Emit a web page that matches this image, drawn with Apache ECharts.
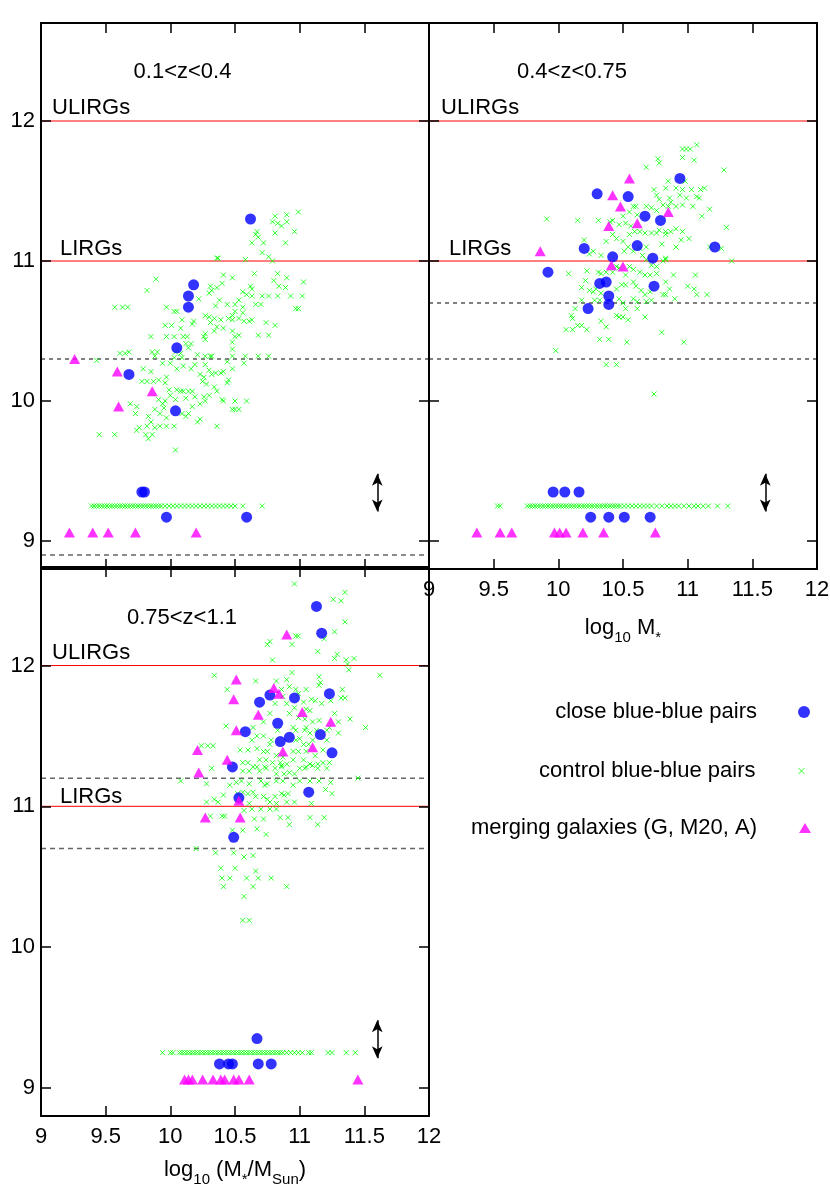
<!DOCTYPE html>
<html><head><meta charset="utf-8">
<script src="https://cdn.jsdelivr.net/npm/echarts@6/dist/echarts.min.js"></script>
<style>html,body{margin:0;padding:0;background:#fff}#c{width:830px;height:1186px}</style>
</head><body><div id="c"></div>
<script>
// ---------------- DATA ----------------
const panelTitles = ['0.1<z<0.4', '0.4<z<0.75', '0.75<z<1.1'];
const seriesNames = ['close blue-blue pairs', 'control blue-blue pairs', 'merging galaxies (G, M20, A)'];
const xRange = [9, 12];
const xInterval = 0.5;
const yRange = [8.8, 12.7];
const yTicks = [9, 10, 11, 12];
const lirgLevels = [12, 11];           // ULIRGs, LIRGs
const dashedBlack = [[10.3], [10.7, 10.3], []];
const dashedGray = [[8.9], [], [11.2, 10.7]];
const arrowX = 11.6;
const arrowYs = [9.21, 9.48];
const rowY = { control: 9.25 };

// panel A: 0.1<z<0.4
const closeA = [[10.62,11.30],[10.18,10.83],[10.14,10.75],[10.14,10.67],[10.05,10.38],[9.68,10.19],[10.04,9.93],
  [9.78,9.35],[9.80,9.35],[9.97,9.17],[10.59,9.17]];
const mergingA = [[9.26,10.30],[9.59,10.21],[9.86,10.07],[9.60,9.96],
  [9.22,9.06],[9.40,9.06],[9.52,9.06],[9.73,9.06],[10.20,9.06]];
const controlA = [[10.81,11.32],[10.79,11.28],[10.83,11.27],[10.90,11.33],[10.90,11.28],[10.86,11.25],[10.99,11.35],[10.96,11.21],[10.89,11.13],[10.67,11.21],[10.66,11.19],[10.68,11.17],[10.63,11.13],[10.72,11.13],[10.81,11.20],[10.71,11.06],[10.76,11.03],[10.79,11.00],[10.58,11.01],[10.37,11.02],[10.36,11.02],
[10.65,10.91],[10.83,10.91],[10.90,10.88],[11.03,10.85],[10.80,10.86],[10.84,10.82],[10.89,10.81],[10.62,10.82],[10.63,10.80],[10.56,10.78],[10.59,10.76],[10.63,10.75],[10.71,10.75],[10.76,10.75],[10.83,10.75],[10.93,10.75],[11.02,10.75],[10.66,10.69],[10.70,10.69],[10.48,10.88],[10.41,10.90],[10.40,10.84],[10.31,10.82],[10.32,10.79],[10.36,10.81],[10.30,10.77],[10.22,10.73],[10.38,10.72],[10.35,10.68],[10.44,10.69],[10.50,10.69],[10.53,10.72],[10.56,10.67],[10.99,10.66],[10.97,10.66],
[9.89,10.87],[9.82,10.79],[9.57,10.67],[9.63,10.67],[9.67,10.67],[9.97,10.67],[10.03,10.64],[10.05,10.64],[10.27,10.61],[10.30,10.60],[10.34,10.59],[10.31,10.56],[10.45,10.59],[10.48,10.58],[10.53,10.59],[10.57,10.57],[10.61,10.57],[10.63,10.58],[10.56,10.63],[10.50,10.64],[10.48,10.61],[10.39,10.58],[10.36,10.53],[10.41,10.52],[10.34,10.50],[10.27,10.48],[10.27,10.44],[10.26,10.46],[10.48,10.50],[10.50,10.46],[10.53,10.47],[10.48,10.42],[10.68,10.47],[10.76,10.47],[10.74,10.56],[10.81,10.54],[10.17,10.55],[10.18,10.57],[10.09,10.58],[10.08,10.52],[10.10,10.46],[10.13,10.46],[10.03,10.46],[9.96,10.54],[10.01,10.54],[9.97,10.46],[9.85,10.46],[10.12,10.41],[10.16,10.41],[10.14,10.38],[10.04,10.35],[10.08,10.34],[10.09,10.31],[10.03,10.31],[10.00,10.27],[10.05,10.23],[10.10,10.25],[10.16,10.23],[10.19,10.26],[10.21,10.33],[10.27,10.32],[10.31,10.32],[10.32,10.32],[10.27,10.26],[10.30,10.22],[10.35,10.20],[10.39,10.20],[10.41,10.21],[10.32,10.19],[10.26,10.17],[10.23,10.19],[10.25,10.14],[10.28,10.12],[10.45,10.15],[10.44,10.13],[10.48,10.23],[10.48,10.37],[10.48,10.32],[10.58,10.32],[10.68,10.32],[10.76,10.32],[10.57,10.27],[10.44,10.28],[9.86,10.35],[9.90,10.35],[9.88,10.32],[9.68,10.35],[9.65,10.34],[9.61,10.34],[9.43,10.29],[9.79,10.23],[9.85,10.21],[9.94,10.27],[9.97,10.17],[9.96,10.13],[9.99,10.08],[9.91,10.15],[9.87,10.14],[9.82,10.14],[9.78,10.14],[10.05,10.08],[10.08,10.07],[10.10,10.07],[10.14,10.07],[10.17,10.07],[10.12,10.02],[10.04,10.01],[10.00,10.04],[9.96,10.00],[9.94,9.98],[9.91,10.01],[9.88,9.94],[9.95,9.95],[9.92,9.91],[9.97,9.88],[9.97,9.82],[10.03,9.82],[9.83,9.89],[9.85,9.85],[9.73,9.91],[9.69,9.98],[9.74,9.96],[9.88,9.81],[9.92,9.82],[9.82,9.82],[9.76,9.81],[9.74,9.79],[9.81,9.76],[9.83,9.73],[9.86,9.76],[9.45,9.76],[9.57,9.76],[10.04,9.65],[10.21,9.85],[10.23,9.87],[10.27,10.00],[10.26,10.03],[10.30,10.04],[10.36,10.07],[10.40,10.01],[10.41,10.00],[10.50,10.00],[10.48,9.94],[10.50,9.94],[10.53,9.94],[10.59,10.00],[10.34,10.10],[10.36,9.82],[10.14,9.91],[10.17,9.96],[10.19,10.03],[10.23,9.98],[10.09,9.91],[10.12,9.89]];
const controlRowA = [9.39,9.41,9.43,9.45,9.47,9.49,9.51,9.53,9.55,9.57,9.59,9.61,9.63,9.65,9.67,9.69,9.71,9.73,9.75,9.77,9.79,9.81,9.83,9.85,9.87,9.89,9.91,9.93,9.96,9.99,10.02,10.05,10.08,10.11,10.14,10.17,10.20,10.23,10.26,10.29,10.32,10.35,10.38,10.41,10.44,10.47,10.50,10.56,10.71];

// panel B: 0.4<z<0.75
const closeB = [[10.94,11.59],[10.30,11.48],[10.54,11.46],[10.67,11.32],[10.79,11.29],[10.20,11.09],[10.61,11.11],[11.21,11.10],[10.42,11.03],[10.73,11.02],[9.92,10.92],[10.32,10.84],[10.37,10.85],[10.74,10.82],[10.39,10.75],[10.39,10.69],[10.23,10.66],
  [9.96,9.35],[10.05,9.35],[10.16,9.35],[10.25,9.17],[10.39,9.17],[10.51,9.17],[10.71,9.17]];
const mergingB = [[10.55,11.59],[10.42,11.47],[10.48,11.39],[10.85,11.35],[10.39,11.25],[10.61,11.27],[9.86,11.07],[10.41,10.97],[10.50,10.96],
  [9.37,9.06],[9.55,9.06],[9.64,9.06],[9.97,9.06],[10.01,9.06],[10.06,9.06],[10.19,9.06],[10.35,9.06],[10.75,9.06]];
const controlB = [[10.96,11.80],[10.99,11.80],[11.02,11.80],[11.07,11.83],[10.96,11.74],[11.05,11.72],[10.77,11.73],[10.78,11.70],[10.68,11.67],[11.28,11.65],[10.85,11.57],[10.98,11.57],[10.74,11.51],[10.76,11.47],[10.83,11.52],[10.91,11.52],[10.96,11.51],[11.03,11.51],[11.10,11.51],[11.13,11.52],[11.07,11.46],[11.09,11.45],[10.99,11.45],[10.94,11.47],[10.78,11.44],[10.86,11.45],[10.87,11.42],[10.81,11.40],[10.85,11.39],[10.91,11.39],[10.96,11.40],[11.04,11.39],[11.17,11.37],[11.11,11.32],[11.30,11.24],[10.58,11.39],[10.60,11.39],[10.68,11.39],[10.72,11.38],[10.76,11.36],[10.61,11.33],[10.55,11.35],[10.50,11.32],[10.42,11.29],[10.40,11.28],[10.31,11.29],[10.15,11.29],[9.91,11.30],[10.47,11.26],[10.52,11.27],[10.56,11.25],[10.59,11.21],[10.63,11.21],[10.67,11.20],[10.72,11.20],[10.76,11.20],[10.78,11.22],[10.83,11.21],[10.87,11.21],[10.91,11.23],[10.96,11.21],[11.01,11.16],[10.95,11.15],[10.91,11.10],[10.80,11.12],[10.83,11.19],[10.55,11.19],[10.50,11.14],[10.45,11.16],[10.37,11.14],[10.42,11.19],[10.20,11.15],[10.27,11.07],[10.24,11.05],[10.33,11.04],[10.51,11.07],[10.54,11.10],[10.58,11.07],[10.63,11.09],[10.68,11.10],[10.65,11.04],[10.68,11.01],[10.72,10.97],[10.76,10.96],[10.81,11.00],[10.83,11.01],[10.89,10.90],[10.76,10.91],[10.71,10.90],[10.67,10.90],[10.63,10.92],[10.58,10.94],[10.55,10.96],[10.47,10.95],[10.45,10.96],[10.52,10.90],[10.42,10.92],[10.37,10.92],[10.33,10.91],[10.31,10.92],[10.22,10.93],[10.08,10.91],[10.21,10.86],[10.18,10.81],[10.24,10.79],[10.27,10.78],[10.29,10.80],[10.33,10.77],[10.45,10.80],[10.49,10.83],[10.52,10.83],[10.58,10.85],[10.60,10.82],[10.64,10.79],[10.67,10.76],[10.71,10.78],[10.83,10.85],[10.86,10.80],[10.83,10.76],[10.90,10.73],[10.81,10.76],[11.00,10.82],[11.05,10.80],[11.07,10.76],[11.15,10.76],[11.06,10.90],[10.58,10.73],[10.61,10.71],[10.68,10.71],[10.72,10.72],[10.47,10.73],[10.50,10.70],[10.52,10.66],[10.47,10.60],[10.50,10.60],[10.54,10.58],[10.45,10.61],[10.61,10.66],[10.67,10.60],[10.32,10.72],[10.28,10.72],[10.18,10.72],[10.13,10.66],[10.10,10.61],[10.11,10.59],[10.15,10.54],[10.18,10.54],[10.22,10.51],[10.06,10.51],[10.11,10.51],[10.33,10.57],[10.37,10.53],[9.98,10.36],[10.32,10.44],[10.39,10.44],[10.53,10.42],[10.80,10.49],[10.97,10.42],[10.37,10.26],[10.45,10.26],[10.74,10.05],[11.34,11.00],[11.26,11.09],[11.17,11.10],[10.83,11.02]];
const controlRowB = [9.53,9.55,9.76,9.78,9.80,9.82,9.84,9.86,9.88,9.90,9.92,9.94,9.96,9.98,10.00,10.02,10.04,10.06,10.08,10.10,10.12,10.14,10.16,10.18,10.20,10.22,10.24,10.26,10.28,10.30,10.32,10.34,10.36,10.38,10.40,10.42,10.44,10.46,10.48,10.51,10.54,10.57,10.60,10.63,10.66,10.69,10.72,10.76,10.80,10.84,10.87,10.90,10.93,10.97,11.01,11.05,11.08,11.12,11.16,11.23,11.31];

// panel C: 0.75<z<1.1
const closeC = [[11.13,12.42],[11.17,12.23],[11.23,11.80],[10.77,11.79],[10.69,11.74],[10.96,11.77],[10.83,11.59],[10.58,11.53],[10.92,11.49],[10.85,11.46],[11.16,11.51],[11.25,11.38],[10.48,11.28],[10.53,11.06],[11.07,11.10],[10.49,10.78],
  [10.67,9.35],[10.38,9.17],[10.45,9.17],[10.48,9.17],[10.68,9.17],[10.78,9.17]];
const mergingC = [[10.90,12.22],[10.51,11.90],[10.49,11.76],[10.80,11.84],[10.84,11.80],[10.68,11.65],[11.02,11.67],[10.51,11.54],[11.24,11.60],[10.21,11.40],[10.87,11.39],[11.10,11.42],[10.44,11.33],[10.22,11.24],[10.53,11.04],[10.27,10.92],[10.54,10.92],
  [10.11,9.06],[10.14,9.06],[10.17,9.06],[10.25,9.06],[10.33,9.06],[10.39,9.06],[10.42,9.06],[10.49,9.06],[10.53,9.06],[10.61,9.06],[11.45,9.06]];
const controlC = [[10.96,12.58],[11.35,12.52],[11.26,12.47],[11.32,12.46],[11.35,12.31],[11.27,12.24],[11.19,12.19],[10.97,12.21],[10.99,12.21],[10.75,12.15],[10.77,12.17],[10.94,12.15],[11.14,12.10],[10.79,12.04],[11.27,12.05],[11.29,12.08],[11.36,12.04],[11.42,12.05],[11.37,12.01],[11.38,11.97],[11.62,11.93],[10.34,11.93],[10.44,11.83],[10.66,11.89],[10.82,11.89],[10.90,11.90],[10.94,11.95],[11.15,11.92],[11.16,11.88],[11.33,11.83],[11.32,11.77],[11.15,11.86],[11.05,11.83],[10.97,11.83],[10.99,11.80],[10.92,11.85],[10.86,11.83],[10.87,11.78],[10.81,11.73],[10.90,11.73],[10.96,11.70],[11.03,11.74],[11.09,11.76],[11.12,11.75],[11.17,11.73],[11.24,11.75],[11.35,11.77],[11.05,11.69],[11.08,11.68],[10.92,11.66],[10.77,11.66],[10.99,11.63],[11.04,11.62],[11.10,11.60],[11.15,11.61],[11.27,11.66],[11.39,11.62],[11.51,11.56],[10.43,11.57],[10.64,11.56],[10.72,11.60],[10.83,11.54],[10.95,11.56],[10.97,11.54],[11.04,11.54],[11.05,11.56],[11.08,11.52],[11.13,11.54],[11.21,11.54],[11.23,11.56],[11.30,11.60],[11.30,11.52],[10.72,11.50],[10.67,11.50],[10.63,11.47],[10.78,11.47],[10.77,11.44],[10.97,11.47],[11.00,11.48],[11.03,11.44],[11.07,11.44],[11.10,11.47],[11.21,11.47],[10.24,11.43],[10.29,11.43],[10.33,11.43],[10.54,11.40],[10.60,11.40],[10.67,11.41],[10.72,11.39],[10.75,11.39],[10.82,11.36],[10.87,11.35],[10.95,11.39],[10.99,11.39],[11.05,11.39],[11.12,11.36],[11.18,11.40],[10.69,11.33],[10.74,11.33],[10.79,11.31],[10.85,11.31],[10.90,11.30],[10.95,11.33],[11.03,11.33],[11.08,11.30],[11.14,11.30],[11.18,11.31],[10.32,11.27],[10.56,11.31],[10.60,11.31],[10.64,11.28],[10.67,11.28],[10.73,11.28],[10.81,11.27],[10.86,11.28],[11.00,11.27],[11.05,11.28],[11.21,11.27],
[10.56,11.25],[10.61,11.25],[10.69,11.25],[10.74,11.27],[10.82,11.23],[10.86,11.29],[10.88,11.23],[10.92,11.24],[10.96,11.23],[11.04,11.27],[11.10,11.29],[11.14,11.27],[11.23,11.31],[11.45,11.20],[10.08,11.18],[10.28,11.16],[10.46,11.15],[10.51,11.17],[10.55,11.18],[10.61,11.16],[10.64,11.10],[10.70,11.18],[10.75,11.16],[10.73,11.15],[10.82,11.18],[10.87,11.18],[10.95,11.15],[11.00,11.18],[11.08,11.18],[11.15,11.18],[11.24,11.17],[11.20,11.12],[11.25,11.09],[10.41,11.08],[10.34,11.05],[10.37,11.03],[10.28,11.03],[10.52,11.09],[10.56,11.10],[10.60,11.09],[10.66,11.07],[10.72,11.07],[10.75,11.05],[10.81,11.07],[10.86,11.09],[10.88,11.08],[10.91,11.09],[10.77,11.03],[10.82,11.02],[10.90,11.03],[10.96,11.03],[11.09,11.02],[10.61,11.02],[10.57,10.97],[10.63,10.98],[10.70,10.98],[10.77,10.98],[10.82,10.98],[10.31,10.93],[10.40,10.93],[10.42,10.93],[10.65,10.91],[10.72,10.91],[10.85,10.92],[10.91,10.92],[10.92,10.87],[11.08,10.92],[11.14,10.87],[11.19,10.92],[10.48,10.83],[10.56,10.83],[10.67,10.84],[10.74,10.80],[10.20,10.70],[10.35,10.67],[10.49,10.67],[10.57,10.64],[10.64,10.65],[10.39,10.56],[10.50,10.56],[10.66,10.54],[10.40,10.49],[10.46,10.49],[10.59,10.49],[10.68,10.49],[10.78,10.49],[10.41,10.43],[10.64,10.43],[10.90,10.43],[10.57,10.36],[10.56,10.19],[10.61,10.19]];
const controlRowC = [9.94,10.00,10.02,10.07,10.09,10.11,10.13,10.15,10.17,10.19,10.21,10.23,10.25,10.27,10.29,10.31,10.33,10.35,10.37,10.39,10.41,10.43,10.45,10.47,10.49,10.51,10.53,10.55,10.57,10.59,10.61,10.63,10.65,10.67,10.69,10.71,10.73,10.75,10.77,10.79,10.81,10.83,10.85,10.87,10.90,10.93,10.96,10.99,11.02,11.07,11.09,11.22,11.25,11.36,11.43];

// ---------------- CHART ----------------
const FONT = "'Liberation Sans', Arial, Helvetica, sans-serif";
const CROSS = 'path://M0,0L10,10M10,0L0,10';
const grids = [
  { left: 41, top: 23, width: 388, height: 546, outerBoundsMode: 'none', containLabel: false },
  { left: 429, top: 23, width: 388, height: 546, outerBoundsMode: 'none', containLabel: false },
  { left: 41, top: 567, width: 388, height: 549, outerBoundsMode: 'none', containLabel: false }
];
const nameGaps = [40, 42, 37];
const panels = [
  { close: closeA, control: controlA, controlRow: controlRowA, merging: mergingA },
  { close: closeB, control: controlB, controlRow: controlRowB, merging: mergingB },
  { close: closeC, control: controlC, controlRow: controlRowC, merging: mergingC }
];

function axisBase(extra) {
  return Object.assign({
    type: 'value', z: 10, splitLine: { show: false },
    axisLine: { show: true, onZero: false, lineStyle: { color: '#000', width: 2 } },
    axisTick: { show: true, inside: true, length: 10, lineStyle: { color: '#000', width: 1.5 } },
    axisLabel: { show: false }
  }, extra);
}
const tickLabel = { fontSize: 22, color: '#000', fontFamily: FONT };
const richName = {
  n: { fontSize: 22, lineHeight: 34, verticalAlign: 'middle', fontFamily: FONT, color: '#000' },
  s: { fontSize: 15, lineHeight: 18, verticalAlign: 'bottom', fontFamily: FONT, color: '#000' }
};
const xNames = ['', '{n|log}{s|10}{n| M}{s|*}', '{n|log}{s|10}{n| (M}{s|*}{n|/M}{s|Sun}{n|)}'];

function levelLine(i, v, lineStyle) {
  return {
    type: 'line', xAxisIndex: 2 * i, yAxisIndex: 2 * i, silent: true, z: 1,
    data: [[xRange[0], v], [xRange[1], v]], showSymbol: false, symbol: 'none',
    lineStyle: Object.assign({ width: 1, opacity: 1 }, lineStyle),
    emphasis: { disabled: true }, tooltip: { show: false }
  };
}

const xAxis = [], yAxis = [], series = [];
grids.forEach((g, i) => {
  xAxis.push(axisBase({
    gridIndex: i, position: 'bottom', min: xRange[0], max: xRange[1], interval: xInterval,
    axisLabel: Object.assign({ show: i !== 0, margin: 10 }, tickLabel),
    name: xNames[i], nameLocation: 'middle', nameGap: nameGaps[i],
    nameTextStyle: { rich: richName }
  }));
  xAxis.push(axisBase({ gridIndex: i, position: 'top', min: xRange[0], max: xRange[1], interval: xInterval }));
  yAxis.push(axisBase({
    gridIndex: i, position: 'left', min: yRange[0], max: yRange[1],
    axisTick: { show: true, inside: true, length: 10, customValues: yTicks, lineStyle: { color: '#000', width: 1.5 } },
    axisLabel: Object.assign({ show: i !== 1, margin: 6, customValues: yTicks }, tickLabel)
  }));
  yAxis.push(axisBase({
    gridIndex: i, position: 'right', min: yRange[0], max: yRange[1],
    axisTick: { show: true, inside: true, length: 10, customValues: yTicks, lineStyle: { color: '#000', width: 1.5 } },
    axisLabel: { show: false, customValues: yTicks }
  }));

  lirgLevels.forEach(v => series.push(levelLine(i, v, { color: '#ff0000', type: 'solid' })));
  dashedBlack[i].forEach(v => series.push(levelLine(i, v, { color: '#000000', type: [4, 4] })));
  dashedGray[i].forEach(v => series.push(levelLine(i, v, { color: '#666666', width: 1.5, type: [5, 4] })));

  const p = panels[i];
  series.push({
    type: 'scatter', name: seriesNames[1], xAxisIndex: 2 * i, yAxisIndex: 2 * i,
    data: p.control.concat(p.controlRow.map(x => [x, rowY.control])),
    symbol: CROSS, symbolSize: 5, silent: true, z: 2,
    itemStyle: { color: '#00ff00', borderColor: '#00ff00', borderWidth: 1 }
  });
  series.push({
    type: 'scatter', name: seriesNames[0], xAxisIndex: 2 * i, yAxisIndex: 2 * i,
    data: p.close, symbol: 'circle', symbolSize: 11, silent: true, z: 3,
    itemStyle: { color: '#0000ff' },
    markLine: {
      silent: true, symbol: 'none', label: { show: false }, animation: false, emphasis: { disabled: true },
      lineStyle: { color: '#000000', width: 1.5, type: 'solid', opacity: 1 },
      data: [[
        { coord: [arrowX, arrowYs[0]], symbol: 'arrow', symbolSize: [8, 12] },
        { coord: [arrowX, arrowYs[1]], symbol: 'arrow', symbolSize: [8, 12] }
      ]]
    }
  });
  series.push({
    type: 'scatter', name: seriesNames[2], xAxisIndex: 2 * i, yAxisIndex: 2 * i,
    data: p.merging, symbol: 'triangle', symbolSize: [11, 10], silent: true, z: 4,
    itemStyle: { color: '#ff00ff' }
  });
});

const legendText = { fontSize: 22, color: '#000', fontFamily: FONT, lineHeight: 24 };
const legend = [
  { data: [{ name: seriesNames[0], icon: 'circle' }], right: 20, top: 700, itemWidth: 12, itemHeight: 12,
    itemStyle: { color: '#0000ff' }, textStyle: Object.assign({ padding: [0, 36, 0, 0] }, legendText) },
  { data: [{ name: seriesNames[1], icon: CROSS }], right: 25, top: 759, itemWidth: 6, itemHeight: 6,
    itemStyle: { color: '#00ff00', borderColor: '#00ff00', borderWidth: 1 }, textStyle: Object.assign({ padding: [0, 38, 0, 0] }, legendText) },
  { data: [{ name: seriesNames[2], icon: 'triangle' }], right: 19, top: 816, itemWidth: 12, itemHeight: 10,
    itemStyle: { color: '#ff00ff' }, textStyle: Object.assign({ padding: [0, 37, 0, 0] }, legendText) }
].map(l => Object.assign({ orient: 'vertical', align: 'right', padding: 0, itemGap: 0, selectedMode: false }, l));

const txt = (x, y, text, align) => ({
  type: 'text', x, y, z: 20,
  style: { text, font: "22px 'Liberation Sans', Arial, sans-serif", fill: '#000', textAlign: align || 'left', textVerticalAlign: 'middle' }
});
const graphic = [
  txt(182.5, 72, panelTitles[0], 'center'),
  txt(572, 72, panelTitles[1], 'center'),
  txt(182, 618, panelTitles[2], 'center'),
  txt(52, 108, 'ULIRGs'), txt(60, 249, 'LIRGs'),
  txt(441, 108, 'ULIRGs'), txt(449, 249, 'LIRGs'),
  txt(52, 653, 'ULIRGs'), txt(60, 797, 'LIRGs')
];

const chart = echarts.init(document.getElementById('c'), null, { renderer: 'canvas' });
chart.setOption({
  animation: false,
  backgroundColor: '#fff',
  textStyle: { fontFamily: FONT },
  grid: grids,
  xAxis, yAxis, series, legend, graphic
});
</script></body></html>
